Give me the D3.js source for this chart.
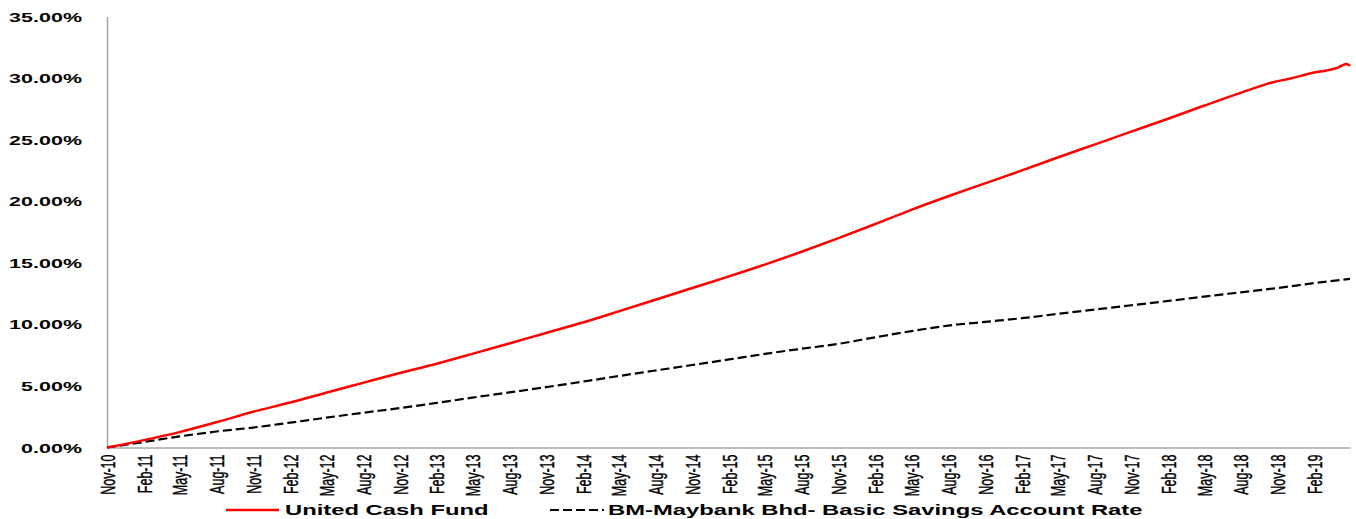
<!DOCTYPE html>
<html>
<head>
<meta charset="utf-8">
<script src="https://cdn.jsdelivr.net/npm/d3@7"></script>
<style>
  html, body { margin: 0; padding: 0; background: #fff; }
  svg { display: block; }
</style>
</head>
<body>
<svg id="chart" width="1356" height="519"></svg>
<script>
// ---- data ----
const yTicks = [0, 5, 10, 15, 20, 25, 30, 35];
const xTickLabels = ["Nov-10","Feb-11","May-11","Aug-11","Nov-11","Feb-12","May-12","Aug-12","Nov-12",
  "Feb-13","May-13","Aug-13","Nov-13","Feb-14","May-14","Aug-14","Nov-14","Feb-15","May-15","Aug-15",
  "Nov-15","Feb-16","May-16","Aug-16","Nov-16","Feb-17","May-17","Aug-17","Nov-17","Feb-18","May-18",
  "Aug-18","Nov-18","Feb-19"];

const ucfDates = ["2010-11-01","2011-02-01","2011-05-01","2011-08-01","2011-11-01","2012-02-01","2012-05-01",
  "2012-08-01","2012-11-01","2013-02-01","2013-05-01","2013-08-01","2013-11-01","2014-02-01","2014-05-01",
  "2014-08-01","2014-11-01","2015-02-01","2015-05-01","2015-08-01","2015-11-01","2016-02-01","2016-05-01",
  "2016-08-01","2016-11-01","2017-02-01","2017-05-01","2017-08-01","2017-11-01","2018-02-01","2018-05-01",
  "2018-08-01","2018-11-01","2018-12-01","2019-01-01","2019-02-01","2019-03-01","2019-04-01","2019-04-22","2019-05-01"];
const ucfValues = [0, 0.6, 1.25, 2.05, 2.9, 3.65, 4.45, 5.25, 6.05, 6.8, 7.6, 8.45, 9.3, 10.15, 11.05, 12.0,
  12.95, 13.9, 14.85, 15.9, 17.0, 18.15, 19.3, 20.4, 21.45, 22.5, 23.55, 24.6, 25.65, 26.7, 27.75, 28.8,
  29.75, 29.95, 30.2, 30.45, 30.6, 30.85, 31.15, 31.0];

const bmDates = ["2010-11-01","2011-02-01","2011-05-01","2011-08-01","2011-11-01","2012-02-01","2012-05-01",
  "2012-08-01","2012-11-01","2013-02-01","2013-05-01","2013-08-01","2013-11-01","2014-02-01","2014-05-01",
  "2014-08-01","2014-11-01","2015-02-01","2015-05-01","2015-08-01","2015-11-01","2016-02-01","2016-05-01",
  "2016-08-01","2016-11-01","2017-02-01","2017-05-01","2017-08-01","2017-11-01","2018-02-01","2018-05-01",
  "2018-08-01","2018-11-01","2019-02-01","2019-05-01"];
const bmValues = [0, 0.45, 0.9, 1.3, 1.62, 2.02, 2.42, 2.82, 3.2, 3.62, 4.05, 4.47, 4.9, 5.35, 5.8, 6.25,
  6.7, 7.15, 7.6, 8.02, 8.42, 8.95, 9.45, 9.9, 10.2, 10.5, 10.85, 11.2, 11.55, 11.9, 12.25, 12.6, 12.95,
  13.35, 13.7];

const seriesNames = ["United Cash Fund", "BM-Maybank Bhd- Basic Savings Account Rate"];

// ---- drawing ----
const svg = d3.select("#chart");
const parseDate = d3.utcParse("%Y-%m-%d");
const parseTick = d3.utcParse("%b-%y");
const FONT = "'Liberation Sans', Arial, sans-serif";

const x = d3.scaleUtc()
  .domain([parseDate("2010-11-01"), parseDate("2019-05-01")])
  .range([107, 1350]);
const y = d3.scaleLinear().domain([0, 35]).range([447.5, 16.5]);

const stretch = 1.72;

// y axis
const yAxis = svg.append("g")
  .attr("transform", "translate(107,0)")
  .call(d3.axisLeft(y).tickValues(yTicks).tickSize(0).tickFormat(d => d3.format(".2f")(d) + "%"));
yAxis.select(".domain").attr("stroke", "#a6a6a6").attr("stroke-width", 1.5);
yAxis.selectAll(".tick text")
  .attr("x", 0)
  .attr("dy", "0.36em")
  .attr("text-anchor", "end")
  .attr("transform", `translate(-25,0) scale(${stretch},1)`)
  .attr("font-family", FONT)
  .attr("font-weight", "bold")
  .attr("font-size", 12.5)
  .attr("fill", "#000");

// x axis
const xAxis = svg.append("g")
  .attr("transform", "translate(0,447.5)")
  .call(d3.axisBottom(x)
    .tickValues(xTickLabels.map(parseTick))
    .tickSize(0)
    .tickFormat(d3.utcFormat("%b-%y")));
xAxis.select(".domain").attr("stroke", "#bdbdbd").attr("stroke-width", 2);
xAxis.selectAll(".tick text")
  .attr("x", 0).attr("y", 0)
  .attr("dy", "0.35em")
  .attr("text-anchor", "end")
  .attr("transform", "translate(0,7) rotate(-90) scale(1,1.65)")
  .attr("font-family", FONT)
  .attr("font-size", 12.5)
  .attr("stroke", "#000")
  .attr("stroke-width", 0.25)
  .attr("fill", "#000");

// lines
const line = d3.line().x(d => x(d[0])).y(d => y(d[1])).curve(d3.curveMonotoneX);
const ucf = ucfDates.map((d, i) => [parseDate(d), ucfValues[i]]);
const bm = bmDates.map((d, i) => [parseDate(d), bmValues[i]]);

svg.append("path").datum(bm)
  .attr("d", line)
  .attr("fill", "none")
  .attr("stroke", "#000")
  .attr("stroke-width", 2.2)
  .attr("stroke-dasharray", "9,4");

svg.append("path").datum(ucf)
  .attr("d", line)
  .attr("fill", "none")
  .attr("stroke", "#ff0000")
  .attr("stroke-width", 2.5)
  .attr("stroke-linejoin", "round");

// legend
const legend = svg.append("g");
legend.append("line").attr("x1", 226).attr("x2", 279).attr("y1", 510).attr("y2", 510)
  .attr("stroke", "#ff0000").attr("stroke-width", 2.5);
legend.append("text")
  .attr("transform", "translate(285,515) scale(1.7,1)")
  .attr("font-family", FONT)
  .attr("font-weight", "bold").attr("font-size", 14)
  .text(seriesNames[0]);
legend.append("line").attr("x1", 550).attr("x2", 604).attr("y1", 510).attr("y2", 510)
  .attr("stroke", "#000").attr("stroke-width", 2.2).attr("stroke-dasharray", "9,4");
legend.append("text")
  .attr("transform", "translate(608,515) scale(1.7,1)")
  .attr("font-family", FONT)
  .attr("font-weight", "bold").attr("font-size", 14)
  .text(seriesNames[1]);
</script>
</body>
</html>
